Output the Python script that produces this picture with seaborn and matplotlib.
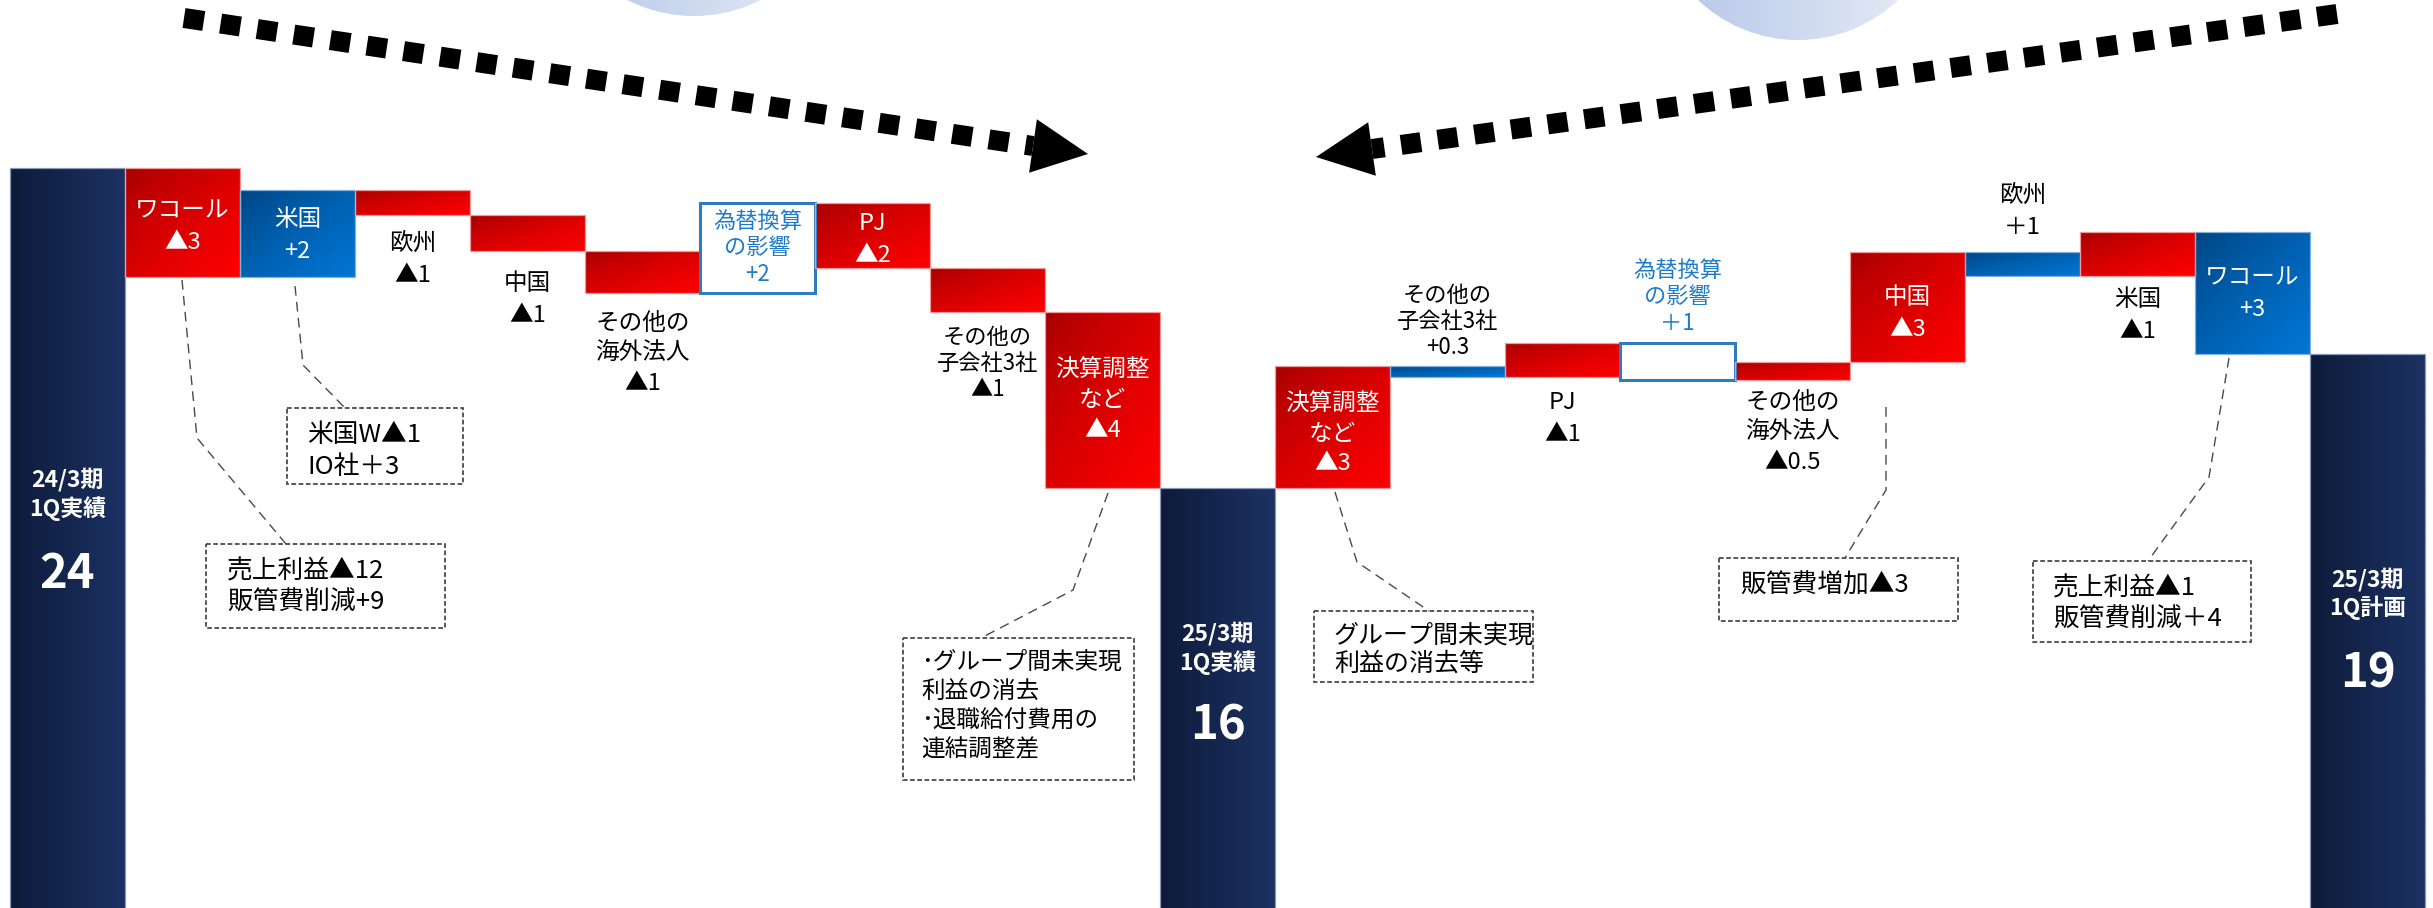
import numpy as np
import pandas as pd
import matplotlib
matplotlib.use("Agg")
import matplotlib.pyplot as plt
from matplotlib.patches import Polygon, Rectangle, Circle
from matplotlib.colors import to_rgb
import seaborn as sns

# ------------------------------------------------------------------ data
start_label = "24/3期\n1Q実績"
start_value = 24.0
left_cats = ["ワコール", "米国", "欧州", "中国", "その他の\n海外法人",
             "為替換算\nの影響", "PJ", "その他の\n子会社3社", "決算調整\nなど"]
left_deltas = [-2.72, 2.17, -0.62, -0.90, -1.05, 2.25, -1.63, -1.10, -4.40]
left_value_labels = ["▲3", "+2", "▲1", "▲1", "▲1", "+2", "▲2", "▲1", "▲4"]

mid_label = "25/3期\n1Q実績"
mid_value = 16.0

right_cats = ["決算調整\nなど", "その他の\n子会社3社", "PJ", "為替換算\nの影響",
              "その他の\n海外法人", "中国", "欧州", "米国", "ワコール"]
right_impacts = [-3.05, 0.27, -0.85, 0.93, -0.45, -2.75, 0.60, -1.10, 3.05]
right_value_labels = ["▲3", "+0.3", "▲1", "＋1", "▲0.5", "▲3", "＋1", "▲1", "+3"]

end_label = "25/3期\n1Q計画"
end_value = 19.35
total_value_labels = ["24", "16", "19"]

callout_texts = [
    ["米国W▲1", "IO社＋3"],
    ["売上利益▲12", "販管費削減+9"],
    ["･グループ間未実現", "利益の消去", "･退職給付費用の", "連結調整差"],
    ["グループ間未実現", "利益の消去等"],
    ["販管費増加▲3"],
    ["売上利益▲1", "販管費削減＋4"],
]

# ------------------------------------------------------------------ build waterfall
lows, highs, kinds, names, vlabels = [], [], [], [], []
lows.append(0.0); highs.append(start_value); kinds.append("total")
names.append(start_label); vlabels.append(total_value_labels[0])
level = start_value
for d, c, lab in zip(left_deltas, left_cats, left_value_labels):
    new = level + d
    lows.append(min(level, new)); highs.append(max(level, new))
    kinds.append("fx" if c.startswith("為替") else ("up" if d > 0 else "down"))
    names.append(c); vlabels.append(lab)
    level = new
lows.append(0.0); highs.append(mid_value); kinds.append("total")
names.append(mid_label); vlabels.append(total_value_labels[1])
rl = [end_value]
for imp in reversed(right_impacts):
    rl.append(rl[-1] + imp)
rl = rl[::-1]
for i, (imp, c, lab) in enumerate(zip(right_impacts, right_cats, right_value_labels)):
    a, b = rl[i], rl[i + 1]
    lows.append(min(a, b)); highs.append(max(a, b))
    kinds.append("fx" if c.startswith("為替") else ("up" if imp > 0 else "down"))
    names.append(c); vlabels.append(lab)
lows.append(0.0); highs.append(end_value); kinds.append("total")
names.append(end_label); vlabels.append(total_value_labels[2])

df = pd.DataFrame({"step": np.arange(len(lows)),
                   "height": np.array(highs) - np.array(lows),
                   "low": lows, "kind": kinds})

# ------------------------------------------------------------------ figure
sns.set_theme(style="white")
plt.rcParams["font.family"] = ["Noto Sans CJK JP", "DejaVu Sans"]

W, H = 2433, 908
fig = plt.figure(figsize=(W / 100, H / 100), dpi=100)
fig.patch.set_facecolor("white")
ax = fig.add_axes([0, 0, 1, 1])

sns.barplot(data=df, x="step", y="height", native_scale=True, width=1.0,
            bottom=df["low"].to_numpy(), color="#999999", saturation=1,
            errorbar=None, linewidth=0, ax=ax)

# pixel <-> data mapping (layout)
PX0, PXW, PY0, PV0, PS = 10.0, 115.0, 168.0, 24.0, 40.0
xlim = ((0 - PX0) / PXW - 0.5, (W - PX0) / PXW - 0.5)
ylim = (PV0 - (H - PY0) / PS, PV0 + PY0 / PS)


def to_px_y(v):
    return PY0 + (PV0 - v) * PS


GRAD = {
    "down": ("#A30000", "#FF0000", "diag", "#F29A9A"),
    "up": ("#00427F", "#0076D4", "diag", "#7FB0E0"),
    "total": ("#0E1B3A", "#1C3263", "horiz", "#8A98B8"),
}


def grad_img(c0, c1, mode, n=96, gamma=1.0):
    u = np.linspace(0, 1, n)[None, :]
    v = np.linspace(0, 1, n)[:, None]
    t = (u + v) / 2 if mode == "diag" else np.broadcast_to(u, (n, n))
    t = t ** gamma
    c0 = np.array(to_rgb(c0)); c1 = np.array(to_rgb(c1))
    return c0[None, None, :] * (1 - t[..., None]) + c1[None, None, :] * t[..., None]


bars = list(ax.patches)
for p, kind in zip(bars, df["kind"]):
    x0, y0 = p.get_x(), p.get_y()
    x1, y1 = x0 + p.get_width(), y0 + p.get_height()
    if kind == "fx":
        p.set_facecolor("white"); p.set_edgecolor("#2E7BC4")
        p.set_linewidth(2.2); p.set_zorder(3)
        continue
    c0, c1, mode, ec = GRAD[kind]
    yb = max(y0, ylim[0])
    im = ax.imshow(grad_img(c0, c1, mode, gamma=0.75 if mode == "diag" else 1.0),
                   extent=(x0, x1, yb, y1), origin="upper",
                   aspect="auto", interpolation="bilinear", zorder=2)
    im.set_clip_path(p)
    p.set_facecolor("none"); p.set_edgecolor(ec); p.set_linewidth(0.9); p.set_zorder(3)

ax.set_xlim(*xlim); ax.set_ylim(*ylim)
ax.axis("off")

# ------------------------------------------------------------------ overlay (pixel space)
ov = fig.add_axes([0, 0, 1, 1], facecolor="none")

# decorative circles
for (cx, cy, r) in [(694, -131, 147), (1798, -105, 145)]:
    circ = Circle((cx, cy), r, facecolor="none", edgecolor="none")
    ov.add_patch(circ)
    im = ov.imshow(grad_img("#B2C4E7", "#EAEFF8", "horiz"),
                   extent=(cx - r, cx + r, cy + r, cy - r), origin="upper",
                   aspect="auto", interpolation="bilinear", zorder=1)
    im.set_clip_path(circ)


def dotted_arrow(p0, p1, tip, half=27):
    ov.plot([p0[0], p1[0]], [p0[1], p1[1]], color="black", lw=14.4,
            linestyle=(0, (1.0, 0.85)), dash_capstyle="butt", zorder=5)
    p1 = np.array(p1, float); tip = np.array(tip, float)
    d = tip - p1; d /= np.linalg.norm(d); n = np.array([-d[1], d[0]])
    ov.add_patch(Polygon([tip, p1 + n * half, p1 - n * half], closed=True,
                         facecolor="black", edgecolor="none", zorder=5))


dotted_arrow((184, 18), (1033, 146), (1088, 154))
dotted_arrow((2337, 14), (1372, 149), (1316, 157))


def mtext(x, yc, lines, spacing, ha="center", **kw):
    n = len(lines)
    for k, s in enumerate(lines):
        ov.text(x, yc + (k - (n - 1) / 2) * spacing, s, ha=ha, va="center", **kw)


# bar labels (pixel y-centres of each label block)
label_yc = [None, 226.5, 235.5, 259, 299, 353.5, 248, 240, 363.5, 400.5,
            None, 434, 321.5, 418.5, 296.5, 432.5, 314, 211, 316, 294, None]
for i, (nm, vl, kind) in enumerate(zip(names, vlabels, kinds)):
    xc = PX0 + PXW * (i + 0.5)
    if kind == "total":
        continue
    yc = label_yc[i]
    lines = nm.split("\n") + [vl]
    small = nm.startswith("為替") or "子会社" in nm
    size = 16 if small else 17
    spacing = 26.5 if small else (30 if len(lines) == 3 else 32)
    top_px, bot_px = to_px_y(highs[i]), to_px_y(lows[i])
    if kind == "fx":
        col = "#1F7BC9"
    elif top_px < yc < bot_px:
        col = "white"
    else:
        col = "black"
    mtext(xc, yc, lines, spacing, color=col, fontsize=size)

# totals
for i, yc1, yc2 in [(0, 494, 574), (10, 648, 726), (20, 594, 674)]:
    xc = PX0 + PXW * (i + 0.5)
    mtext(xc, yc1, names[i].split("\n"), 28.5, color="white", fontsize=16.5,
          fontweight="bold")
    ov.text(xc, yc2, vlabels[i], ha="center", va="center", color="white",
            fontsize=34, fontweight="bold")

# callouts: box (x0, y0, x1, y1), text x, text yc, spacing, font size, leader polyline
callouts = [
    ((287, 408, 463, 484), 307, 451, 32, 18.5, [(295, 286), (303, 365), (345, 408)]),
    ((206, 544, 445, 628), 227, 587, 32, 18.5, [(182, 280), (197, 438), (286, 544)]),
    ((903, 638, 1134, 780), 921, 706, 29.5, 17, [(1108, 493), (1073, 590), (981, 638)]),
    ((1314, 611, 1533, 682), 1334, 650, 28, 18, [(1335, 492), (1357, 562), (1429, 611)]),
    ((1719, 558, 1958, 621), 1740, 586, 30, 18.5, [(1886, 407), (1886, 490), (1845, 558)]),
    ((2033, 561, 2251, 642), 2053, 604, 32, 18.5, [(2229, 358), (2209, 477), (2148, 561)]),
]
for (box, tx, tyc, sp, fs, leader), lines in zip(callouts, callout_texts):
    bx0, by0, bx1, by1 = box
    ov.add_patch(Rectangle((bx0, by0), bx1 - bx0, by1 - by0, facecolor="white",
                           edgecolor="#4A4A4A", lw=1.3, linestyle=(0, (2.6, 1.4)),
                           zorder=4))
    xs, ys = zip(*leader)
    ov.plot(xs, ys, color="#4A4A4A", lw=1.0, linestyle=(0, (7, 4.5)), zorder=4)
    mtext(tx, tyc, lines, sp, ha="left", color="black", fontsize=fs, zorder=6)

ov.set_xlim(0, W); ov.set_ylim(H, 0)
ov.axis("off")

fig.savefig("out.png", dpi=100, facecolor="white")
